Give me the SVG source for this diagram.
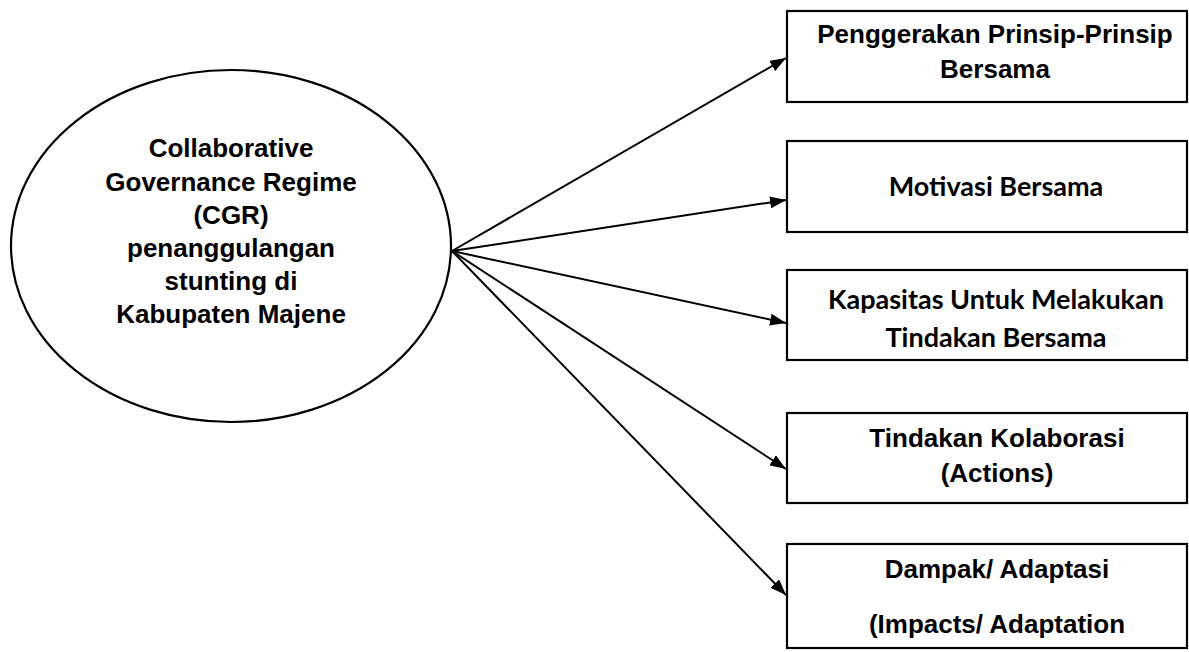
<svg xmlns="http://www.w3.org/2000/svg" width="1189" height="652" viewBox="0 0 1189 652">
<style>
.shape{fill:#fff;stroke:#000;stroke-width:2.2}
.arial{font-family:"Liberation Sans",Arial,sans-serif;font-weight:bold;font-size:26px;fill:#000;text-anchor:middle}
.cal{font-family:Lato,"Open Sans",sans-serif;font-weight:bold;font-size:27px;fill:#000;text-anchor:middle}
.conn{stroke:#000;stroke-width:2;fill:none;marker-end:url(#ah)}
</style>
<defs>
<marker id="ah" viewBox="0 0 16 12" refX="16" refY="6" markerWidth="16" markerHeight="12" markerUnits="userSpaceOnUse" orient="auto">
<path d="M0,0 L16,6 L0,12 Z" fill="#000"/>
</marker>
</defs>
<g id="connectors">
<line class="conn" x1="452" y1="251" x2="786" y2="58"/>
<line class="conn" x1="452" y1="251" x2="786" y2="200"/>
<line class="conn" x1="452" y1="251" x2="786" y2="323"/>
<line class="conn" x1="452" y1="251" x2="786" y2="469"/>
<line class="conn" x1="452" y1="251" x2="786" y2="595"/>
</g>
<g id="cgr">
<ellipse class="shape" cx="231" cy="246" rx="220" ry="176"/>
<text class="arial" x="231" y="157">Collaborative</text>
<text class="arial" x="231" y="191">Governance Regime</text>
<text class="arial" x="231" y="224">(CGR)</text>
<text class="arial" x="231" y="257">penanggulangan</text>
<text class="arial" x="231" y="290">stunting di</text>
<text class="arial" x="231" y="323">Kabupaten Majene</text>
</g>
<g id="box1">
<rect class="shape" x="787" y="11" width="400" height="91"/>
<text class="arial" x="995" y="43">Penggerakan Prinsip-Prinsip</text>
<text class="arial" x="995" y="78">Bersama</text>
</g>
<g id="box2">
<rect class="shape" x="787" y="141" width="400" height="91"/>
<text class="cal" x="996" y="196">Motivasi Bersama</text>
</g>
<g id="box3">
<rect class="shape" x="787" y="270" width="400" height="90"/>
<text class="cal" x="996" y="309">Kapasitas Untuk Melakukan</text>
<text class="cal" x="996" y="347">Tindakan Bersama</text>
</g>
<g id="box4">
<rect class="shape" x="787" y="413" width="400" height="90"/>
<text class="arial" x="997" y="447">Tindakan Kolaborasi</text>
<text class="arial" x="997" y="482">(Actions)</text>
</g>
<g id="box5">
<rect class="shape" x="787" y="544" width="400" height="104"/>
<text class="arial" x="997" y="578">Dampak/ Adaptasi</text>
<text class="arial" x="997" y="633">(Impacts/ Adaptation</text>
</g>
</svg>
